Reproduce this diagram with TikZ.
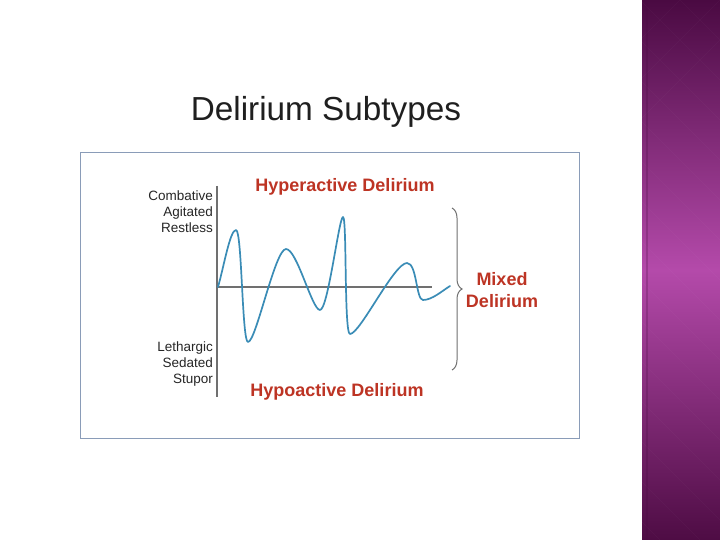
\documentclass[tikz,border=0pt]{standalone}
\usepackage{fontspec}
\setmainfont{Liberation Sans}
\usetikzlibrary{decorations.pathreplacing}
\definecolor{redlbl}{RGB}{189,52,36}
\definecolor{wave}{RGB}{58,140,182}
\definecolor{axisgray}{RGB}{112,112,112}
\definecolor{frame}{RGB}{138,156,184}
\definecolor{plumtop}{RGB}{74,10,66}
\definecolor{plummid}{RGB}{180,74,170}
\definecolor{plumbot}{RGB}{78,12,68}

\begin{document}
\begin{tikzpicture}[
  x=1pt, y=-1pt,
  sidelbl/.style={anchor=east, align=right, inner sep=0pt, text=black!85,
                  font=\fontsize{13.5}{16}\selectfont},
  typelbl/.style={inner sep=0pt, text=redlbl,
                  font=\fontsize{18}{22}\selectfont\bfseries},
  axisline/.style={draw=axisgray, line width=1.1pt},
  curve/.style={draw=wave, line width=1.7pt, line cap=round, line join=round},
  bracestyle/.style={draw=axisgray, line width=1pt,
                     decorate, decoration={brace, amplitude=10pt}}
]
\useasboundingbox (0,0) rectangle (720,540);
\fill[white] (0,0) rectangle (720,540);

% ── Side strip ───────────────────────
\shade[top color=plumtop, bottom color=plumbot, middle color=plummid]
  (642,0) rectangle (720,540);
\begin{scope}
  \clip (642,0) rectangle (720,540);
  \foreach \k in {-600,-560,...,760} {
    \draw[white, opacity=0.025, line width=1pt] (\k,0) -- ++(540,540);
    \draw[white, opacity=0.025, line width=1pt] (\k,0) -- ++(-540,540);
  }
  \draw[plumtop, opacity=0.25, line width=1.5pt] (647,0) -- (647,540);
\end{scope}

% ── Title ────────────────────────────
\node[inner sep=0pt, text=black!88, font=\fontsize{33.3}{38}\selectfont]
  (title) at (326,112) {Delirium Subtypes};

% ── Frame ────────────────────────────
\draw[frame, line width=1pt] (80.5,152.5) rectangle (579.5,438);

% ── Axes ─────────────────────────────
\coordinate (ytop) at (217,186);
\coordinate (ybot) at (217,397);
\coordinate (orig) at (217,287);
\coordinate (xend) at (432,287);
\draw[axisline] (ytop) -- (ybot);
\draw[axisline] (orig) -- (xend);

% ── Wave ─────────────────────────────
\draw[curve] (218,287)
  .. controls (224,266) and (230,230) .. (236,230)
  .. controls (242,230) and (242,342) .. (248,342)
  .. controls (256,342) and (275,249) .. (286,249)
  .. controls (297,249) and (312,310) .. (320,310)
  .. controls (328,310) and (339,217) .. (343,217)
  .. controls (347,217) and (344,334) .. (350,334)
  .. controls (360,334) and (394,263) .. (407,263)
  .. controls (417,263) and (416,300) .. (423,300)
  .. controls (432,300) and (442,291) .. (450,286);

% ── Labels ───────────────────────────
\node[sidelbl] (high) at (213,212) {Combative\\Agitated\\Restless};
\node[sidelbl] (low) at (213,364) {Lethargic\\Sedated\\Stupor};
\node[typelbl] (hyper) at (345,187) {Hyperactive Delirium};
\node[typelbl] (hypo) at (337,392) {Hypoactive Delirium};
\node[typelbl, align=center] (mixed) at (502,290) {Mixed\\Delirium};

% ── Brace ────────────────────────────
\coordinate (btop) at (452,208);
\coordinate (bbot) at (452,370);
\draw[bracestyle] (btop) -- (bbot);

\end{tikzpicture}
\end{document}
